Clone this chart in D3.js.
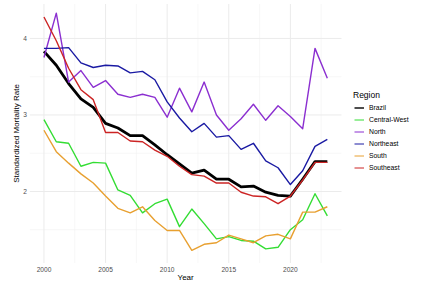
<!DOCTYPE html>
<html>
<head>
<meta charset="utf-8">
<script src="https://cdn.jsdelivr.net/npm/d3@7"></script>
<style>
  body { margin: 0; background: #fff; }
  svg { font-family: "Liberation Sans", Arial, sans-serif; }
  .tick-label { fill: #4d4d4d; font-size: 6.6px; }
  .axis-title { fill: #000; font-size: 8px; }
  .legend-title { fill: #000; font-size: 8.5px; }
  .legend-label { fill: #000; font-size: 6.8px; }
</style>
</head>
<body>
<svg width="435" height="289"></svg>
<script>
// data
var years = d3.range(2000, 2024);
var regions = ['Brazil', 'Central-West', 'North', 'Northeast', 'South', 'Southeast'];
var brazil = [3.83, 3.65, 3.41, 3.21, 3.10, 2.89, 2.83, 2.73, 2.73, 2.61, 2.48, 2.36, 2.24, 2.28, 2.16, 2.16, 2.06, 2.07, 1.99, 1.95, 1.94, 2.16, 2.39, 2.39];
var centralWest = [2.94, 2.65, 2.63, 2.33, 2.38, 2.37, 2.02, 1.95, 1.72, 1.84, 1.90, 1.54, 1.77, 1.58, 1.38, 1.41, 1.36, 1.35, 1.25, 1.27, 1.50, 1.63, 1.97, 1.68];
var north = [3.75, 4.33, 3.43, 3.58, 3.36, 3.45, 3.27, 3.23, 3.27, 3.23, 2.97, 3.35, 3.04, 3.43, 3.00, 2.80, 2.95, 3.14, 2.93, 3.12, 2.98, 2.82, 3.87, 3.48];
var northeast = [3.87, 3.87, 3.88, 3.68, 3.62, 3.65, 3.64, 3.55, 3.57, 3.46, 3.17, 2.96, 2.78, 2.89, 2.71, 2.73, 2.55, 2.63, 2.40, 2.31, 2.09, 2.27, 2.59, 2.68];
var south = [2.80, 2.52, 2.37, 2.23, 2.11, 1.94, 1.78, 1.72, 1.80, 1.62, 1.49, 1.49, 1.23, 1.31, 1.33, 1.43, 1.38, 1.33, 1.42, 1.44, 1.38, 1.73, 1.73, 1.80];
var southeast = [4.28, 3.97, 3.61, 3.33, 3.20, 2.77, 2.77, 2.66, 2.65, 2.54, 2.46, 2.33, 2.22, 2.20, 2.11, 2.11, 1.99, 1.94, 1.93, 1.84, 1.94, 2.15, 2.38, 2.38];
var xTicks = [2000, 2005, 2010, 2015, 2020];
var yTicks = [2, 3, 4];

var valuesByRegion = {
    'Brazil': brazil,
    'Central-West': centralWest,
    'North': north,
    'Northeast': northeast,
    'South': south,
    'Southeast': southeast
};

var colorScale = d3.scaleOrdinal()
    .domain(regions)
    .range(['#000000', '#33dd33', '#8b2fd0', '#1a1aa3', '#e8a030', '#cc2424']);

var svg = d3.select('svg');
var panel = {l: 29.8, r: 341.5, t: 4, b: 263};

var xScale = d3.scaleLinear().domain([1998.85, 2024.15]).range([panel.l, panel.r]);
var yScale = d3.scaleLinear().domain([1.065, 4.45]).range([panel.b, panel.t]);

// grid, minor first then major
var gridG = svg.append('g');
var xMinor = [2002.5, 2007.5, 2012.5, 2017.5, 2022.5];
var yMinor = [1.5, 2.5, 3.5];

gridG.selectAll('.xminor').data(xMinor).enter().append('line')
    .attr('x1', function(d){ return xScale(d); })
    .attr('x2', function(d){ return xScale(d); })
    .attr('y1', panel.t).attr('y2', panel.b)
    .attr('stroke', '#f2f2f2').attr('stroke-width', 0.6);
gridG.selectAll('.yminor').data(yMinor).enter().append('line')
    .attr('y1', function(d){ return yScale(d); })
    .attr('y2', function(d){ return yScale(d); })
    .attr('x1', panel.l).attr('x2', panel.r)
    .attr('stroke', '#f2f2f2').attr('stroke-width', 0.6);
gridG.selectAll('.xmajor').data(xTicks).enter().append('line')
    .attr('x1', function(d){ return xScale(d); })
    .attr('x2', function(d){ return xScale(d); })
    .attr('y1', panel.t).attr('y2', panel.b)
    .attr('stroke', '#ebebeb').attr('stroke-width', 1);
gridG.selectAll('.ymajor').data(yTicks).enter().append('line')
    .attr('y1', function(d){ return yScale(d); })
    .attr('y2', function(d){ return yScale(d); })
    .attr('x1', panel.l).attr('x2', panel.r)
    .attr('stroke', '#ebebeb').attr('stroke-width', 1);

// tick labels
svg.selectAll('.xlab').data(xTicks).enter().append('text')
    .attr('class', 'tick-label')
    .attr('x', function(d){ return xScale(d); })
    .attr('y', 271.5)
    .attr('text-anchor', 'middle')
    .text(function(d){ return d; });
svg.selectAll('.ylab').data(yTicks).enter().append('text')
    .attr('class', 'tick-label')
    .attr('x', 27)
    .attr('y', function(d){ return yScale(d) + 2.3; })
    .attr('text-anchor', 'end')
    .text(function(d){ return d; });

// axis titles
svg.append('text')
    .attr('class', 'axis-title')
    .attr('x', (panel.l + panel.r) / 2)
    .attr('y', 280)
    .attr('text-anchor', 'middle')
    .text('Year');
svg.append('text')
    .attr('class', 'axis-title')
    .attr('text-anchor', 'middle')
    .attr('transform', 'translate(' + [18.5, (panel.t + panel.b) / 2] + ')rotate(-90)')
    .text('Standardized Mortality Rate');

// lines
var line = d3.line()
    .x(function(d){ return xScale(d.year); })
    .y(function(d){ return yScale(d.value); });

var series = regions.map(function(r){
    return {
        region: r,
        values: years.map(function(y, i){ return {year: y, value: valuesByRegion[r][i]}; })
    };
});

svg.append('g').selectAll('path').data(series).enter().append('path')
    .attr('d', function(d){ return line(d.values); })
    .attr('fill', 'none')
    .attr('stroke', function(d){ return colorScale(d.region); })
    .attr('stroke-width', function(d){ return d.region == 'Brazil' ? 2.8 : 1.4; })
    .attr('stroke-linejoin', 'round');

// legend
var legendG = svg.append('g').attr('transform', 'translate(353,0)');
legendG.append('text')
    .attr('class', 'legend-title')
    .attr('x', 0).attr('y', 98)
    .text('Region');
var keys = legendG.selectAll('.key').data(regions).enter().append('g')
    .attr('transform', function(d, i){ return 'translate(' + [0, 108 + i * 12] + ')'; });
keys.append('line')
    .attr('x1', 1.5).attr('x2', 11)
    .attr('stroke', function(d){ return colorScale(d); })
    .attr('stroke-width', function(d){ return d == 'Brazil' ? 1.4 : 1; });
keys.append('text')
    .attr('class', 'legend-label')
    .attr('x', 16).attr('y', 2.4)
    .text(function(d){ return d; });
</script>
</body>
</html>
